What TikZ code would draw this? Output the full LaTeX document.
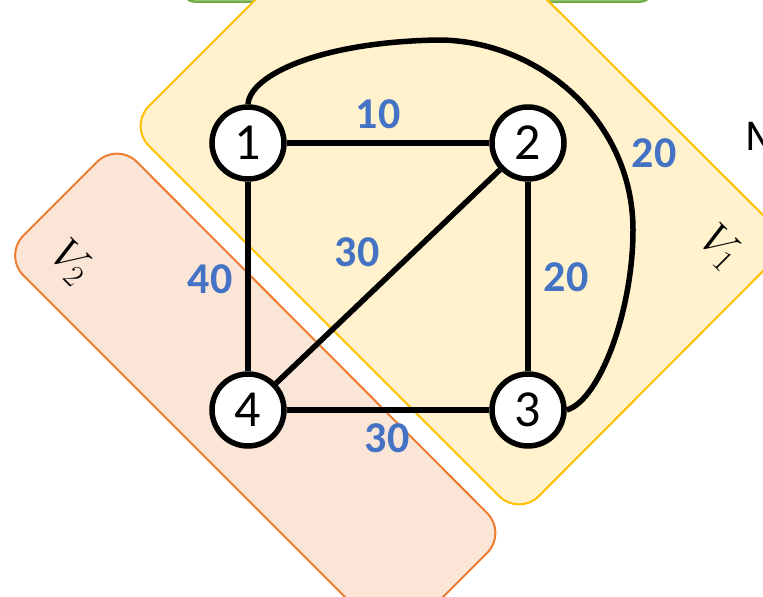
\RequirePackage{fix-cm}
\documentclass[tikz,border=0pt]{standalone}
\usepackage[no-math]{fontspec}
\setmainfont{Carlito}
\definecolor{ylfill}{HTML}{FFF2CC}
\definecolor{yldraw}{HTML}{FFC000}
\definecolor{orfill}{HTML}{FBE5D6}
\definecolor{ordraw}{HTML}{ED7D31}
\definecolor{grfill}{HTML}{E2F0D9}
\definecolor{grdraw}{HTML}{70AD47}
\definecolor{wtblue}{HTML}{4472C4}
\pgfdeclarelayer{bglayer}
\pgfdeclarelayer{edgelayer}
\pgfsetlayers{bglayer,edgelayer,main}
\tikzset{
  vert/.style={circle, draw=black, fill=white, line width=5.5pt, minimum size=72pt, inner sep=0pt, font=\fontsize{52}{60}\selectfont},
  edge/.style={line width=5.5pt, draw=black},
  wt/.style={text=wtblue, font=\fontsize{44}{50}\selectfont\bfseries, inner sep=0pt},
  setlabel/.style={rotate=-45, font=\fontsize{44}{50}\selectfont, inner sep=0pt},
  region/.style={line width=2pt, rounded corners=28pt}
}
\begin{document}
\begin{tikzpicture}[x=1pt,y=-1pt]
\useasboundingbox (0,0) rectangle (763,597);
\clip (0,0) rectangle (763,597);
% regions
\begin{pgfonlayer}{bglayer}
\draw[fill=grfill, draw=grdraw, line width=2.5pt, rounded corners=10pt] (184,-60) rectangle (651,1.5);
\draw[region, fill=ylfill, draw=yldraw] (129,126) -- (519,516) -- (791,243) -- (401,-146) -- cycle;
\draw[region, fill=orfill, draw=ordraw] (117,142) -- (507,533) -- (394,646) -- (3.5,255.5) -- cycle;
\end{pgfonlayer}
\node[setlabel] (V1) at (720,247) {$V_1$};
\node[setlabel] (V2) at (71,262) {$V_2$};
\node[anchor=base west, inner sep=0pt, font=\fontsize{44}{50}\selectfont] (M) at (745,150) {M};
% vertices
\node[vert] (n1) at (248,143) {1};
\node[vert] (n2) at (528,143) {2};
\node[vert] (n3) at (528,410) {3};
\node[vert] (n4) at (248,410) {4};
\coordinate (c1) at (438,40);
\coordinate (c2) at (633,230);
% edges
\begin{pgfonlayer}{edgelayer}
\draw[edge] (n1) -- (n2);
\draw[edge] (n1) -- (n4);
\draw[edge] (n2) -- (n3);
\draw[edge] (n4) -- (n3);
\draw[edge] (n2) -- (n4);
\draw[edge] (n1.north) .. controls (250,75) and (320,42) .. (c1) .. controls (538,40) and (633,120) .. (c2) .. controls (633,310) and (600,400) .. (n3.east);
\end{pgfonlayer}
% weights
\node[wt] (w12) at (378,114) {10};
\node[wt] (w13) at (654,153) {20};
\node[wt] (w24) at (357,252) {30};
\node[wt] (w14) at (210,279) {40};
\node[wt] (w23) at (566,277) {20};
\node[wt] (w43) at (387,438) {30};
\end{tikzpicture}
\end{document}
